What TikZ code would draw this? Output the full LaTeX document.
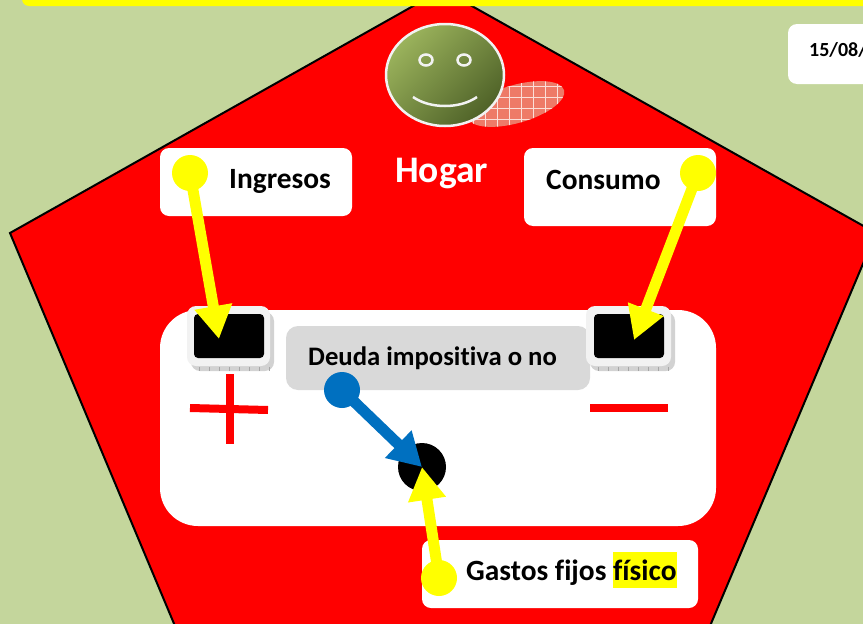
\documentclass[tikz,border=0pt]{standalone}
\usepackage{fontspec}
\setmainfont[Ligatures=NoCommon]{Carlito}
\usetikzlibrary{arrows.meta,shadings,shapes.geometric}
\definecolor{bgg}{HTML}{C4D69C}
\definecolor{yel}{RGB}{255,255,0}
\definecolor{hatchc}{HTML}{EE7A68}
\definecolor{keyc}{HTML}{F2F2F2}
\definecolor{grayb}{HTML}{D9D9D9}
\definecolor{bluea}{HTML}{0070C0}
\definecolor{facel}{HTML}{9BB35C}
\definecolor{faced}{HTML}{4F6228}
\setlength{\fboxsep}{0pt}
\tikzset{
 x=1pt,y=-1pt,
 card/.style={fill=white,rounded corners=9pt},
 lab/.style={font=\bfseries\fontsize{29.4}{29}\selectfont,text=black,inner sep=0pt,anchor=base west},
 yarrow/.style={draw=yel,line width=11pt,-{Triangle[length=33pt,width=36pt,fill=yel]}},
 barrow/.style={draw=bluea,line width=11pt,-{Triangle[length=33pt,width=36pt,fill=bluea]}},
 ydot/.style={circle,fill=yel,minimum size=36pt,inner sep=0pt},
 bdot/.style={circle,fill=bluea,minimum size=36pt,inner sep=0pt},
 keycap/.style={fill=keyc,rounded corners=9pt},
 keytop/.style={fill=black,rounded corners=4pt},
 keyside/.style={fill=gray!35,rounded corners=9pt},
 redbar/.style={draw=red,line width=8pt},
 eye/.style={ellipse,draw=keyc,line width=2.5pt,minimum width=13pt,minimum height=11pt,inner sep=0pt}
}
\begin{document}
\begin{tikzpicture}
\useasboundingbox (0,0) rectangle (863,624);
\clip (0,0) rectangle (863,624);
\fill[bgg] (0,0) rectangle (863,624);
% pentagon
\draw[fill=red,draw=black,line width=2pt,line join=miter] (442.5,-10.5) -- (876,233) -- (710,626) -- (175,626) -- (10,233) -- cycle;
% top bar
\fill[yel,rounded corners=7pt] (22,-20) rectangle (900,6);
% hatched ellipse
\begin{scope}
\clip[rotate around={16:(516,104)}] (516,104) ellipse [x radius=50pt,y radius=19pt];
\fill[hatchc] (460,70) rectangle (570,130);
\foreach \i in {473,485,...,570} \draw[white!75!hatchc,line width=.7pt] (\i,70) -- (\i,130);
\foreach \j in {75,86,...,130} \draw[white!75!hatchc,line width=.7pt] (460,\j) -- (570,\j);
\end{scope}
% face
\node[ellipse,draw=keyc,line width=2.5pt,minimum width=118pt,minimum height=102pt,inner sep=0pt,
  shading=axis,left color=facel,right color=faced,shading angle=45] (face) at (445,75) {};
\node[eye] (eyeL) at (426,60) {};
\node[eye] (eyeR) at (464,60) {};
\draw[keyc,line width=2.5pt] (413,97) .. controls (430,109) and (460,109) .. (477,97);
% cards
\path[card] (160,148) rectangle (352,216);
\path[card] (524,148) rectangle (716,226);
\path[card] (788,24) rectangle (890,84);
\fill[white,rounded corners=38pt] (160,310) rectangle (716,526);
\path[card] (422,540) rectangle (698,608);
\fill[grayb,rounded corners=12pt] (286,326) rectangle (590,390);
% keys
\path[keyside] (191,312) rectangle (274,371);
\foreach \i in {199,209,...,269} \draw[gray!70,line width=.4pt] (\i,367) -- (\i,371);
\path[keycap] (187,306) rectangle (270,366);
\path[keytop] (194,314) rectangle (264,358);
\path[keyside] (590,312) rectangle (675,371);
\foreach \i in {598,608,...,668} \draw[gray!70,line width=.4pt] (\i,367) -- (\i,371);
\path[keycap] (586,306) rectangle (671,366);
\path[keytop] (594,314) rectangle (664,358);
\coordinate (keyL) at (219,339);
\coordinate (keyR) at (634,340);
% plus minus
\draw[redbar] (230,374) -- (230,444);
\draw[redbar] (190,408) -- (268,410);
\draw[redbar] (590,408) -- (668,408);
% centre dot
\node[circle,fill=black,minimum size=48pt,inner sep=0pt] (hub) at (422,467) {};
% labels
\node[lab] (ing) at (229,188) {Ingresos};
\node[lab] (con) at (546,189) {Consumo};
\node[lab,font=\bfseries\fontsize{26.7}{27}\selectfont] (deu) at (308,365) {Deuda impositiva o no};
\node[lab,text=white,font=\bfseries\fontsize{37.5}{38}\selectfont] (hog) at (395,182) {Hogar};
\node[lab,font=\bfseries\fontsize{20}{20}\selectfont] (dat) at (809,56.5) {15/08/};
\node[lab] (gas) at (466,580) {Gastos fijos \colorbox{yel}{\rule[-8pt]{0pt}{36pt}físico}};
% connectors
\node[ydot] (d1) at (190,173) {};
\node[ydot] (d2) at (698,173) {};
\node[bdot] (d3) at (342,390) {};
\node[ydot] (d4) at (439,578) {};
\draw[yarrow] (d1.center) -- (keyL);
\draw[yarrow] (d2.center) -- (keyR);
\draw[barrow] (d3.center) -- (hub.center);
\draw[yarrow] (d4.center) -- (hub.center);
\end{tikzpicture}
\end{document}
